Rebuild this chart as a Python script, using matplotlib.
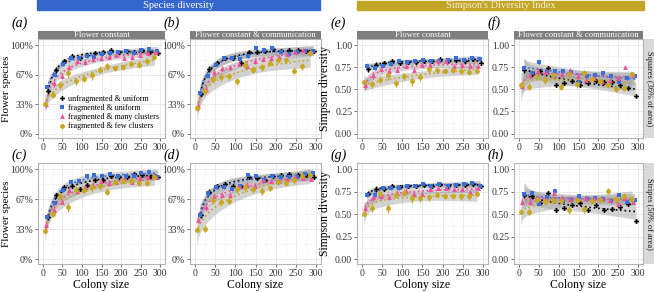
import numpy as np
import matplotlib
matplotlib.use("Agg")
import matplotlib.pyplot as plt
from matplotlib.patches import Rectangle
from matplotlib.lines import Line2D

plt.rcParams['font.family'] = ['Liberation Serif', 'DejaVu Serif']

# colony sizes (centre of each group) and series
colony = np.array([10, 30, 50, 70, 90, 110, 130, 150, 170, 190, 210, 230, 250, 270, 290])
series_names = ["unfragmented & uniform", "fragmented & uniform",
                "fragmented & many clusters", "fragmented & few clusters"]

# (a) species, flower constant, squares
a_black = [0.48, 0.72, 0.82, 0.88, 0.86, 0.89, 0.91, 0.92, 0.94, 0.92, 0.93, 0.92, 0.94, 0.92, 0.91]
a_blue = [0.53, 0.66, 0.79, 0.86, 0.85, 0.88, 0.87, 0.90, 0.91, 0.92, 0.93, 0.91, 0.95, 0.96, 0.93]
a_pink = [0.33, 0.57, 0.65, 0.75, 0.82, 0.81, 0.84, 0.85, 0.87, 0.89, 0.86, 0.87, 0.89, 0.91, 0.92]
a_olive = [0.34, 0.44, 0.55, 0.68, 0.59, 0.62, 0.66, 0.72, 0.76, 0.74, 0.75, 0.79, 0.78, 0.82, 0.87]
# (b) species, flower constant & communication, squares
b_black = [0.45, 0.73, 0.80, 0.86, 0.85, 0.80, 0.92, 0.92, 0.93, 0.96, 0.93, 0.95, 0.94, 0.93, 0.93]
b_blue = [0.46, 0.65, 0.78, 0.85, 0.85, 0.84, 0.88, 0.97, 0.95, 0.97, 0.92, 0.90, 0.92, 0.93, 0.93]
b_pink = [0.31, 0.50, 0.70, 0.74, 0.75, 0.79, 0.77, 0.82, 0.84, 0.86, 0.87, 0.90, 0.92, 0.94, 0.92]
b_olive = [0.29, 0.48, 0.62, 0.64, 0.65, 0.59, 0.78, 0.72, 0.75, 0.80, 0.83, 0.83, 0.71, 0.76, 0.91]
# (c) species, flower constant, stripes
c_black = [0.47, 0.71, 0.80, 0.82, 0.78, 0.83, 0.88, 0.88, 0.93, 0.92, 0.92, 0.95, 0.94, 0.92, 0.92]
c_blue = [0.47, 0.63, 0.77, 0.86, 0.87, 0.93, 0.94, 0.93, 0.95, 0.93, 0.93, 0.93, 0.96, 0.97, 0.92]
c_pink = [0.38, 0.55, 0.64, 0.77, 0.76, 0.80, 0.83, 0.87, 0.85, 0.86, 0.89, 0.86, 0.90, 0.91, 0.92]
c_olive = [0.32, 0.51, 0.70, 0.58, 0.77, 0.77, 0.80, 0.81, 0.75, 0.86, 0.87, 0.87, 0.85, 0.85, 0.92]
# (d) species, flower constant & communication, stripes
d_black = [0.49, 0.75, 0.82, 0.84, 0.82, 0.81, 0.92, 0.90, 0.88, 0.93, 0.94, 0.95, 0.94, 0.94, 0.92]
d_blue = [0.49, 0.74, 0.80, 0.80, 0.78, 0.82, 0.94, 0.93, 0.88, 0.93, 0.91, 0.92, 0.92, 0.95, 0.96]
d_pink = [0.44, 0.58, 0.70, 0.72, 0.72, 0.81, 0.83, 0.82, 0.88, 0.87, 0.87, 0.89, 0.91, 0.90, 0.89]
d_olive = [0.33, 0.34, 0.66, 0.64, 0.65, 0.78, 0.80, 0.78, 0.76, 0.79, 0.86, 0.85, 0.88, 0.93, 0.94]
# (e) simpson, flower constant, squares
e_black = [0.73, 0.78, 0.80, 0.82, 0.80, 0.81, 0.81, 0.82, 0.82, 0.84, 0.82, 0.83, 0.82, 0.84, 0.80]
e_blue = [0.77, 0.74, 0.77, 0.79, 0.82, 0.81, 0.82, 0.83, 0.82, 0.82, 0.83, 0.85, 0.83, 0.86, 0.84]
e_pink = [0.55, 0.66, 0.73, 0.71, 0.72, 0.77, 0.72, 0.78, 0.78, 0.82, 0.82, 0.77, 0.78, 0.77, 0.77]
e_olive = [0.58, 0.56, 0.61, 0.66, 0.57, 0.65, 0.59, 0.64, 0.73, 0.72, 0.71, 0.72, 0.71, 0.70, 0.71]
# (f) simpson, flower constant & communication, squares
f_black = [0.72, 0.67, 0.71, 0.74, 0.55, 0.57, 0.59, 0.55, 0.57, 0.59, 0.58, 0.58, 0.55, 0.52, 0.43]
f_blue = [0.74, 0.68, 0.81, 0.70, 0.71, 0.71, 0.70, 0.58, 0.65, 0.66, 0.68, 0.65, 0.58, 0.63, 0.65]
f_pink = [0.54, 0.66, 0.71, 0.70, 0.66, 0.67, 0.71, 0.65, 0.61, 0.63, 0.60, 0.61, 0.63, 0.75, 0.66]
f_olive = [0.55, 0.53, 0.65, 0.61, 0.66, 0.53, 0.67, 0.56, 0.68, 0.62, 0.59, 0.55, 0.51, 0.52, 0.67]
# (g) simpson, flower constant, stripes
g_black = [0.73, 0.78, 0.78, 0.82, 0.80, 0.81, 0.82, 0.83, 0.82, 0.84, 0.82, 0.83, 0.83, 0.84, 0.81]
g_blue = [0.71, 0.72, 0.79, 0.79, 0.79, 0.82, 0.82, 0.84, 0.81, 0.84, 0.82, 0.83, 0.84, 0.85, 0.82]
g_pink = [0.57, 0.69, 0.70, 0.69, 0.74, 0.76, 0.73, 0.73, 0.78, 0.79, 0.79, 0.78, 0.78, 0.75, 0.79]
g_olive = [0.51, 0.57, 0.73, 0.57, 0.72, 0.74, 0.68, 0.68, 0.69, 0.72, 0.70, 0.70, 0.70, 0.70, 0.73]
# (h) simpson, flower constant & communication, stripes
h_black = [0.71, 0.70, 0.63, 0.74, 0.55, 0.57, 0.60, 0.63, 0.55, 0.60, 0.55, 0.56, 0.58, 0.62, 0.43]
h_blue = [0.73, 0.74, 0.62, 0.69, 0.76, 0.64, 0.66, 0.70, 0.67, 0.68, 0.67, 0.65, 0.72, 0.64, 0.66]
h_pink = [0.64, 0.64, 0.67, 0.67, 0.74, 0.68, 0.67, 0.67, 0.68, 0.68, 0.68, 0.66, 0.62, 0.68, 0.64]
h_olive = [0.53, 0.53, 0.66, 0.65, 0.66, 0.65, 0.55, 0.66, 0.56, 0.65, 0.66, 0.76, 0.67, 0.70, 0.67]

# error bar half widths (roughly read, per series)
err_black = [0.03, 0.03, 0.02, 0.02, 0.02, 0.02, 0.02, 0.02, 0.02, 0.02, 0.02, 0.02, 0.02, 0.02, 0.02]
err_blue = [0.02, 0.02, 0.02, 0.02, 0.02, 0.02, 0.02, 0.02, 0.02, 0.02, 0.02, 0.02, 0.02, 0.02, 0.02]
err_pink = [0.04, 0.04, 0.03, 0.03, 0.03, 0.03, 0.03, 0.03, 0.03, 0.02, 0.02, 0.02, 0.02, 0.02, 0.02]
err_olive = [0.03, 0.04, 0.04, 0.05, 0.04, 0.04, 0.05, 0.04, 0.04, 0.03, 0.03, 0.03, 0.04, 0.04, 0.03]

colors = ["#000000", "#3a6fd8", "#f0509a", "#c8a820"]
markers = ["P", "s", "^", "o"]
dodge = [4, 2, -2, -5]
errs = [err_black, err_blue, err_pink, err_olive]

W, H = 654, 292
fig = plt.figure(figsize=(W / 100, H / 100), dpi=100)


def box(l, t, r, b):
    return [l / W, 1 - b / H, (r - l) / W, (b - t) / H]


def smooth(x, y):
    lx = np.log(x)
    X = np.vstack([np.ones_like(lx), lx, lx ** 2]).T
    coef, *_ = np.linalg.lstsq(X, y, rcond=None)
    res = y - X @ coef
    s = np.sqrt(np.sum(res ** 2) / (len(y) - 3))
    xs = np.linspace(x.min(), x.max(), 120)
    lxs = np.log(xs)
    Xs = np.vstack([np.ones_like(lxs), lxs, lxs ** 2]).T
    cov = s ** 2 * np.linalg.inv(X.T @ X)
    se = np.sqrt(np.einsum('ij,jk,ik->i', Xs, cov, Xs))
    fit = Xs @ coef
    return xs, fit, 2.5 * se + 0.015


cols = [(38, 165), (190, 321), (357, 488), (514, 643)]
rows = [(39, 138), (163, 264)]

panels = [
    ("a", 0, 0, [a_black, a_blue, a_pink, a_olive], True, "Flower constant"),
    ("b", 0, 1, [b_black, b_blue, b_pink, b_olive], True, "Flower constant & communication"),
    ("e", 0, 2, [e_black, e_blue, e_pink, e_olive], False, "Flower constant"),
    ("f", 0, 3, [f_black, f_blue, f_pink, f_olive], False, "Flower constant & communication"),
    ("c", 1, 0, [c_black, c_blue, c_pink, c_olive], True, None),
    ("d", 1, 1, [d_black, d_blue, d_pink, d_olive], True, None),
    ("g", 1, 2, [g_black, g_blue, g_pink, g_olive], False, None),
    ("h", 1, 3, [h_black, h_blue, h_pink, h_olive], False, None),
]

for letter, r, c, data, species, strip in panels:
    l, rr = cols[c]
    t, b = rows[r]
    ax = fig.add_axes(box(l, t, rr, b))
    ax.set_xlim(-12, 312)
    ax.set_ylim(-0.05, 1.07)
    ax.set_xticks([0, 50, 100, 150, 200, 250, 300])
    ax.set_xticks([25, 75, 125, 175, 225, 275], minor=True)
    if species:
        ax.set_yticks([0, 1 / 3, 2 / 3, 1])
        ax.set_yticklabels(["0%", "33%", "67%", "100%"])
        ax.set_yticks([1 / 6, 0.5, 5 / 6], minor=True)
    else:
        ax.set_yticks([0, 0.25, 0.5, 0.75, 1.0])
        ax.set_yticklabels(["0.00", "0.25", "0.50", "0.75", "1.00"])
        ax.set_yticks([0.125, 0.375, 0.625, 0.875], minor=True)
    ax.grid(True, which='major', color='#e6e6e6', lw=0.6)
    ax.grid(True, which='minor', color='#f2f2f2', lw=0.4)
    ax.set_axisbelow(True)
    for sp in ax.spines.values():
        sp.set_color('#b3b3b3')
        sp.set_linewidth(0.8)
    ax.tick_params(axis='both', which='major', labelsize=7, length=2, width=0.5,
                   color='#333333', pad=1.5, labelcolor='#333333')
    ax.tick_params(which='minor', length=0)

    # ribbons first, then lines and points
    for i, y in enumerate(data):
        xs, fit, band = smooth(colony + dodge[i], np.array(y))
        ax.fill_between(xs, fit - band, fit + band, color='#a0a0a0', alpha=0.45, lw=0)
    for i, y in enumerate(data):
        x = colony + dodge[i]
        xs, fit, band = smooth(x, np.array(y))
        ax.plot(xs, fit, ls=':', color=colors[i], lw=1.2)
    for i, y in enumerate(data):
        x = colony + dodge[i]
        ax.errorbar(x, y, yerr=errs[i], fmt=markers[i], color=colors[i], ms=3.5,
                    elinewidth=0.9, capsize=0, mew=0)

    if strip:
        sax = fig.add_axes(box(l, t - 8, rr, t))
        sax.set_xticks([])
        sax.set_yticks([])
        sax.set_facecolor('#7f7f7f')
        for sp in sax.spines.values():
            sp.set_visible(False)
        sax.text(0.5, 0.45, strip, color='white', fontsize=6.2, ha='center', va='center',
                 transform=sax.transAxes)

    label_y = t - 16 if r == 0 else t - 8
    fig.text((l - 26) / W, 1 - label_y / H, "(" + letter + ")", fontsize=10,
             style='italic', ha='left', va='center')

    if c == 0:
        ax.set_ylabel("Flower species", fontsize=8)
        ax.yaxis.set_label_coords(-27 / (rr - l), 0.5)
    if c == 2:
        ax.set_ylabel("Simpson diversity", fontsize=8.5)
        ax.yaxis.set_label_coords(-26 / (rr - l), 0.5)
    if r == 1:
        ax.set_xlabel("Colony size", fontsize=8.5, labelpad=1)
    if letter == "a":
        handles = [Line2D([], [], ls='none', marker=markers[i], color=colors[i], ms=3.5, mew=0)
                   for i in range(4)]
        ax.legend(handles, series_names, loc='lower right', bbox_to_anchor=(1.0, 0.02),
                  fontsize=5.8, frameon=False, handlelength=1.0, handletextpad=0.3,
                  labelspacing=0.15, borderpad=0.2)

# right-hand strips
for r, label in [(0, "Squares (36% of area)"), (1, "Stripes (50% of area)")]:
    t, b = rows[r]
    sax = fig.add_axes(box(644, t, 654, b))
    sax.set_xticks([])
    sax.set_yticks([])
    sax.set_facecolor('#d9d9d9')
    for sp in sax.spines.values():
        sp.set_visible(False)
    sax.text(0.5, 0.5, label, rotation=-90, fontsize=6, ha='center', va='center',
             color='#1a1a1a', transform=sax.transAxes)

# header bars
fig.patches.append(Rectangle((37 / W, 1 - 10 / H), (320 - 37) / W, 10 / H,
                             transform=fig.transFigure, color='#3566cc', zorder=0))
fig.text((37 + 320) / 2 / W, 1 - 5 / H, "Species diversity", color='white', fontsize=7.5,
         ha='center', va='center')
fig.patches.append(Rectangle((357 / W, 1 - 10 / H), (644 - 357) / W, 9 / H,
                             transform=fig.transFigure, color='#c2a526', zorder=0))
fig.text((357 + 644) / 2 / W, 1 - 5.5 / H, "Simpson's Diversity Index", color='#f5f0d8',
         fontsize=7.5, ha='center', va='center')

fig.savefig("out.png", dpi=100)
